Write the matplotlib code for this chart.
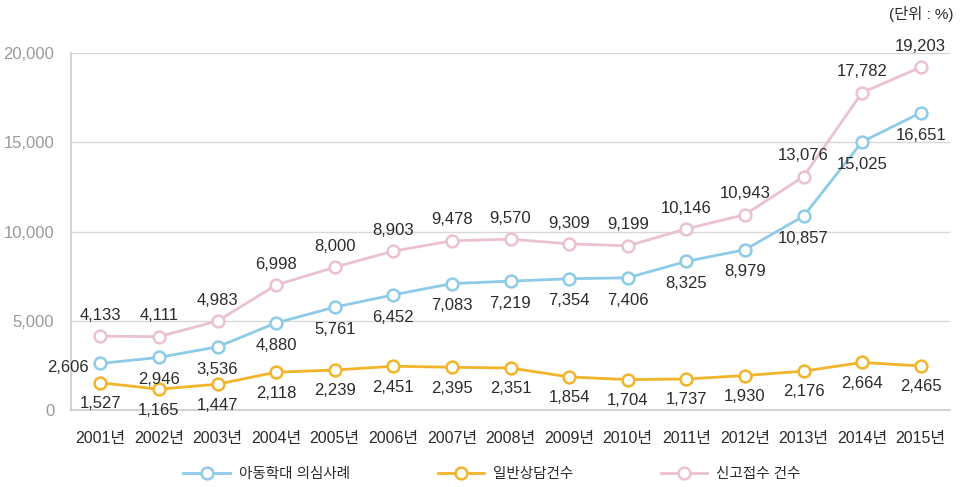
import matplotlib
matplotlib.use("Agg")
import matplotlib.pyplot as plt

plt.rcParams["font.family"] = ["Liberation Sans", "Noto Sans CJK KR", "DejaVu Sans"]

years = ["2001년", "2002년", "2003년", "2004년", "2005년", "2006년", "2007년", "2008년",
         "2009년", "2010년", "2011년", "2012년", "2013년", "2014년", "2015년"]
suspected = [2606, 2946, 3536, 4880, 5761, 6452, 7083, 7219, 7354, 7406, 8325, 8979, 10857, 15025, 16651]
general = [1527, 1165, 1447, 2118, 2239, 2451, 2395, 2351, 1854, 1704, 1737, 1930, 2176, 2664, 2465]
reports = [4133, 4111, 4983, 6998, 8000, 8903, 9478, 9570, 9309, 9199, 10146, 10943, 13076, 17782, 19203]
series_names = ["아동학대 의심사례", "일반상담건수", "신고접수 건수"]
yticks = [0, 5000, 10000, 15000, 20000]
ytick_labels = ["0", "5,000", "10,000", "15,000", "20,000"]

c_blue = "#8dcbe8"
c_orange = "#f1b42a"
c_pink = "#ebc1d2"
txt = "#2b2b2b"

fig = plt.figure(figsize=(9.6, 4.87), dpi=100)
ax = fig.add_axes([71 / 960, 1 - 410 / 487, (950 - 71) / 960, (410 - 53) / 487])

x = list(range(len(years)))
style = dict(lw=2, marker="o", ms=8.5, mew=1.8, mfc="white", zorder=3)
l1, = ax.plot(x, suspected, color=c_blue, label=series_names[0], **style)
l2, = ax.plot(x, general, color=c_orange, label=series_names[1], **style)
l3, = ax.plot(x, reports, color=c_pink, label=series_names[2], **style)

ax.set_xlim(-0.5, len(years) - 0.5)
ax.set_ylim(0, 20000)
ax.set_yticks(yticks)
ax.set_yticklabels(ytick_labels)
ax.set_xticks(x)
ax.set_xticklabels(years)
ax.grid(axis="y", color="#d8d8d8", lw=1)
ax.set_axisbelow(True)
for s in ["top", "right"]:
    ax.spines[s].set_visible(False)
for s in ["left", "bottom"]:
    ax.spines[s].set_color("#cccccc")
    ax.spines[s].set_linewidth(1.2)
ax.tick_params(axis="both", length=0)
ax.tick_params(axis="y", labelsize=12, labelcolor="#9a9a9a", pad=12)
ax.tick_params(axis="x", labelsize=11.5, labelcolor=txt, pad=15)

fs = 12


def label(xi, v, dx, dy, ha="center"):
    ax.annotate(f"{v:,}", (xi, v), xytext=(dx, dy), textcoords="offset points",
                ha=ha, va="center", fontsize=fs, color=txt, zorder=4)


for i, v in enumerate(reports):
    label(i, v, 0, 15)
for i, v in enumerate(suspected):
    if i == 0:
        label(i, v, -8, -3, ha="right")
    else:
        label(i, v, 0, -16)
for i, v in enumerate(general):
    label(i, v, 0, -15)

fig.text(0.993, 1 - 14 / 487, "(단위 : %)", ha="right", va="center", fontsize=11, color=txt)

fig.legend(handles=[l1, l2, l3], loc="center", bbox_to_anchor=(492 / 960, 1 - 474 / 487),
           ncol=3, frameon=False, fontsize=10.5, handlelength=3.2, handletextpad=0.6,
           columnspacing=6.0, labelcolor=txt)

fig.savefig("out.png", dpi=100)
